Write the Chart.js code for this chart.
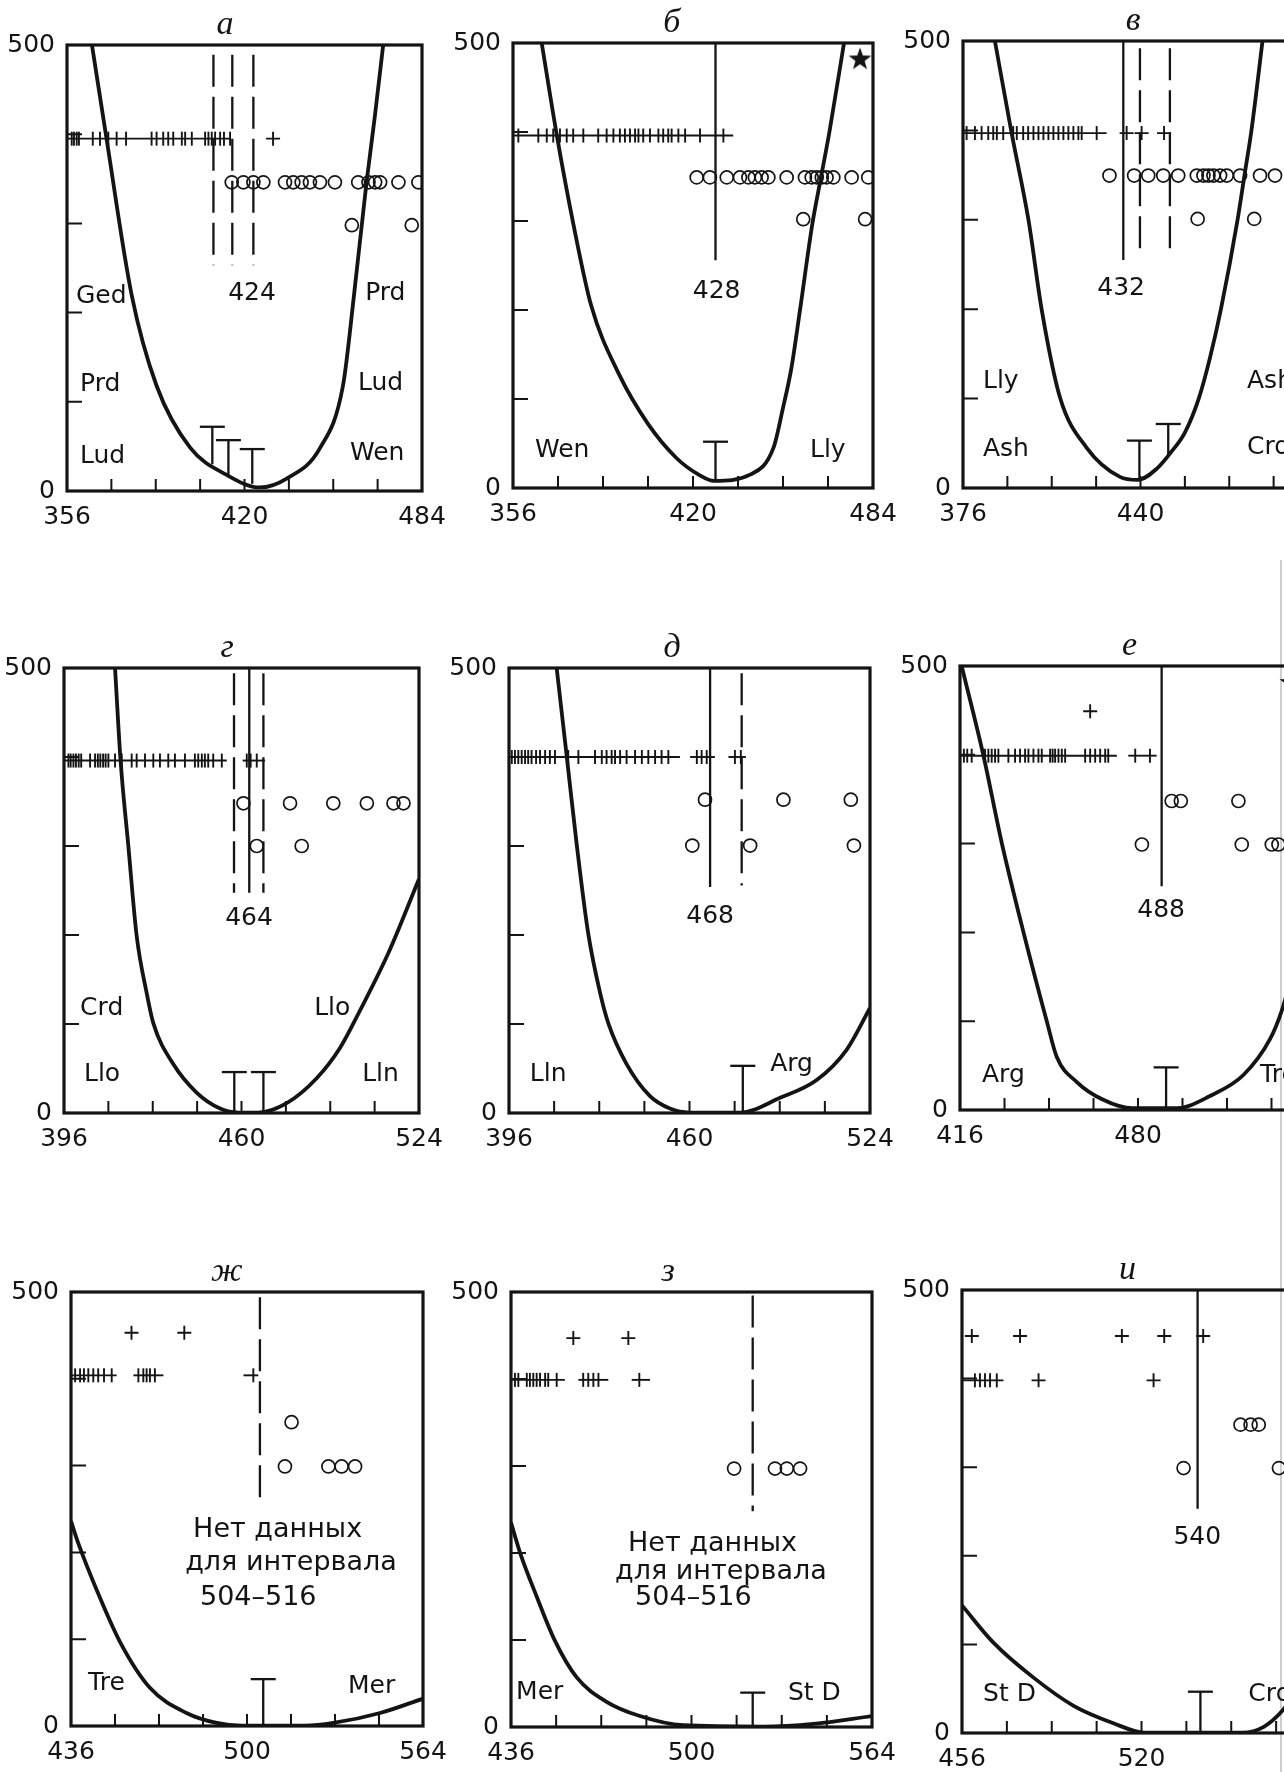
<!DOCTYPE html>
<html>
<head>
<meta charset="utf-8">
<script src="https://cdn.jsdelivr.net/npm/chart.js@4.4.1/dist/chart.umd.min.js"></script>
<style>
  html, body { margin: 0; padding: 0; background: #fff; overflow: hidden; width: 1284px; height: 1772px; }
  #edge { position: absolute; left: 1280px; top: 560px; width: 2px; height: 1212px; background: #cfcfcf; }
</style>
</head>
<body>
<div id="edge"></div>
<script>
// ---------- values (x: age, y: 0..500) ----------

// panel а
const curveA = [[365,500],[370.3,394],[379.3,220],[388.3,118],[400.4,48.6],[413.6,18],[425.5,4],[435.2,14],[447.2,48],[455.5,118],[459.5,220],[464,346],[467,420],[470,500]];
const ticksA = [357.7,358.5,359.5,360.3,365.3,367.9,370.9,373.9,377.3,386.5,388.3,390.7,392.5,394.3,397.4,398.6,401,405.8,407,408.2,409.4,411.2,412.6,414.8];
const tickLinesA = [[356,414.8]];
const plusA = [[430.3,395]];
const circlesA = [[415.4,346],[419.6,346],[423.2,346],[426.8,346],[434.6,346],[437.6,346],[440.6,346],[443.6,346],[447.2,346],[452.6,346],[461,346],[464.7,346],[467.1,346],[468.9,346],[475.5,346],[482.7,346],[458.7,298],[480.3,298]];
const refA = [[408.8,489,253,1],[415.6,489,253,1],[423.2,489,253,1]];
const tA = [[408.4,30,72],[414.2,18,57],[422.8,8,47]];
const labelsA = [['Ged',359.2,217.5],['Prd',360.7,119],['Lud',360.7,39],['Prd',463.5,221],['Lud',460.9,120],['Wen',458,42.6],['424',422.7,221,'center']];

// panel б
const curveB = [[366.2,500],[371.6,396],[377.5,296],[383.8,205],[393.5,129],[404,72],[414,34],[422,15],[427.5,8],[440.3,15],[448.6,45],[452,90],[455,135],[458,199],[462.5,298],[465.5,349],[468.5,400],[473.7,500]];
const ticksB = [357.9,365,368,370.3,372.7,375.1,377.4,381,386.3,389.3,391.7,394,395.8,397.6,399.4,400.6,402.3,404.7,407.7,409.4,411.2,412.4,414.8,417.2,422.5,430.8];
const tickLinesB = [[356,434.3]];
const plusB = [];
const circlesB = [[421.3,349],[426,349],[432,349],[436.7,349],[439.7,349],[442,349],[444.4,349],[446.8,349],[453.3,349],[459.8,349],[462.2,349],[464,349],[465.8,349],[467.5,349],[469.9,349],[476.4,349],[482.3,349],[459.2,302],[481.2,302]];
const refB = [[428,500,256,0]];
const tB = [[428,8,52]];
const starsB = [[479.4,482.6]];
const labelsB = [['Wen',363.8,41.6],['Lly',461.6,41.6],['428',428.4,221,'center']];

// panel в
const curveC = [[387.5,500],[393.5,397.5],[399.6,300],[404.4,199],[411,101],[420.6,45],[432.6,12.4],[439,9],[446,22],[451,40],[456,62],[461,100],[465,145],[469,200],[475,300],[477.5,350],[480,400],[484,500]];
const ticksC = [377.3,380.3,382.7,385.1,386.9,388.2,390.5,394.1,395.4,397.7,399.5,401.4,403.2,405,406.8,408.6,410.4,412.2,414,415.8,417.6,418.8,424.2];
const tickLinesC = [[376,427.8]];
const plusC = [[435,397],[440.4,397],[448.5,397]];
const circlesC = [[428.8,349.5],[437.7,349.5],[442.8,349.5],[448.2,349.5],[453.6,349.5],[460.3,349.5],[462.7,349.5],[464.5,349.5],[466.3,349.5],[468.7,349.5],[471.1,349.5],[475.9,349.5],[483.1,349.5],[488.5,349.5],[460.6,301],[481,301]];
const refC = [[433.8,500,255,0],[439.8,492,259,1],[450.6,492,259,1]];
const tC = [[439.6,9,53],[450,37,71.6]];
const labelsC = [['Lly',383.2,118.6],['Ash',383.2,43.6],['Ash',478.4,118.6],['Crd',478.4,45],['432',433,222.6,'center']];

// panel г
const curveD = [[414.4,500],[416.4,396],[419.2,300],[422.2,199],[425.8,135],[428.2,101],[435.4,55],[443.8,23],[452.3,5],[459,0.5],[466,0.5],[476.3,11],[487.1,39],[495.5,73],[502.7,115],[513,180],[524,263]];
const ticksD = [397.6,398.4,399.4,400.3,401.3,402.2,405.4,407.2,408.2,409.1,410.1,411,412,414.4,416.8,420.4,422.2,425.2,428.2,430.6,433.6,436,439.6,443.2,444.4,445.7,446.8,448,449.8,452.9,461.9,463.3,465.5];
const tickLinesD = [[396,454.7],[460.4,468.5]];
const plusD = [];
const circlesD = [[460.7,348],[477.5,348],[493.1,348],[505.2,348],[514.8,348],[518.4,348],[465.5,300],[481.7,300]];
const refD = [[457.3,494,247.5,1],[462.8,500,247.5,0],[467.9,494,247.5,1]];
const tD = [[457.4,0,46],[467.9,0,46]];
const labelsD = [['Crd',401.8,116.9],['Llo',403.2,42.7],['Llo',486.2,116.9],['Lln',503.5,42.7],['464',462.7,219,'center']];

// panel д
const curveE = [[412.9,500],[416.5,400],[420,302],[424.1,201.5],[428.3,135],[431.2,101],[437.7,55],[446,19],[453.1,5],[460,0.5],[478,0.5],[492.1,17],[505.1,37],[515.7,71],[524,118]];
const ticksE = [397,398.1,399.3,400.5,401.7,402.8,404,405.6,407,408.8,410.5,412.3,417,420.6,426.5,428.9,430.6,432.4,433.6,435.4,437.7,440.7,443.1,445.4,447.8,450.1,452.5,462.6,464.3,466.1,476.1,478.2];
const tickLinesE = [[396,456.6],[460.2,469],[473.8,480]];
const plusE = [];
const circlesE = [[465.5,352],[493.3,352],[517.2,352],[461,300.5],[481.5,300.5],[518.3,300.5]];
const refE = [[467.3,500,254,0],[478.5,494,255.5,1]];
const tE = [[478.9,0,53]];
const labelsE = [['Lln',403.4,42.7],['Arg',488.6,55],['468',467.3,221,'center']];

// panel е
const curveF = [[416.6,500],[424.4,399.5],[431,301],[438.8,200.5],[447.2,100],[450.8,59.7],[458,31.5],[467.5,11.5],[478,2],[494,2],[505.9,15.8],[517.9,39.4],[527.5,80],[531.7,112],[536,160]];
const ticksF = [417.4,418.6,420.2,425,426.2,427.4,428.6,429.8,433.4,435.8,437.6,439.4,440.6,442.4,444.2,445.4,448.4,449.3,450.2,451.4,452.6,453.8,461,462.8,464.6,466.4,468.2,469.3,479,484.3];
const tickLinesF = [[416,472.4],[476.5,486.7]];
const plusF = [[462.8,449]];
const circlesF = [[492.1,348],[495.4,348],[516.1,348],[481.4,299],[517.3,299],[528.1,299],[530.5,299]];
const refF = [[488.5,500,252,0]];
const tF = [[490.1,0,48]];
const starsF = [[535,482]];
const labelsF = [['Arg',423.9,39.4],['Tre',523.9,39.4],['488',488.3,224.5,'center']];

// panel ж
const curveG = [[436,236],[438.7,210],[445.3,157],[453.8,97],[464.7,44],[478,15],[489,3.5],[498,0.5],[521,0.5],[531.4,3.5],[548.4,15],[564,31.5]];
const ticksG = [437.5,439.3,440.7,442.3,444.1,445.9,448,450.8,460.5,462.3,463.5,464.7,466.5,502.3];
const tickLinesG = [[436,452.6],[458.7,469.6],[498.7,504.1]];
const plusG = [[458,453],[477.2,453]];
const circlesG = [[516.2,350],[513.8,299],[529.6,299],[534.4,299],[539.3,299]];
const refG = [[504.7,494,254,1]];
const tG = [[505.9,0,54]];
const labelsG = [['Tre',442.2,49.5],['Mer',536.7,46],['Нет данных',480.4,225.8,'left',27],['для интервала',477.5,187.8,'left',27],['504–516',482.9,147.5,'left',27]];

// panel з
const curveH = [[436,235],[439.2,200.5],[445.1,150],[451.6,99],[459.3,57],[469.9,29],[481.7,12.6],[497.1,2],[525.5,0.5],[543.2,3.5],[564,12.5]];
const ticksH = [437.4,438.6,441.6,442.7,443.9,445.1,446.3,448.1,449.2,452.2,461.6,463.4,465.2,467,481.5];
const tickLinesH = [[436,455.1],[459.9,470.5],[478.8,485.3]];
const plusH = [[458.1,447],[477.6,447]];
const circlesH = [[515.1,297],[529.6,297],[533.8,297],[538.5,297]];
const refH = [[521.7,496,248,1]];
const tH = [[521.7,0,39.5]];
const labelsH = [['Mer',437.8,40],['St D',534.2,39],['Нет данных',477.5,210,'left',27],['для интервала',472.9,178,'left',27],['504–516',480,148,'left',27]];

// panel и
const curveI = [[456,144],[467.2,102],[481.5,62.5],[495.8,30.7],[510,11],[521,0.5],[556,0.5],[563.6,7],[570.2,25],[578,60]];
const ticksI = [460.6,462.4,464.2,466,468.4];
const tickLinesI = [[456,470.8]];
const plusI = [[459.5,448],[476.7,448],[513,448],[528.1,448],[542,448],[483.3,398],[524.3,398]];
const circlesI = [[555.3,348],[558.9,348],[561.8,348],[535,299],[569,299]];
const refI = [[540,500,253,0]];
const tI = [[541,0,46.6]];
const labelsI = [['St D',463.5,42.9],['Crd',558.1,42.9],['540',539.9,221,'center']];

// y of the row of vertical marks, one per panel
const tickRowY = [395, 396, 397, 396, 400, 399, 404, 399, 398];
const titles = ['а', 'б', 'в', 'г', 'д', 'е', 'ж', 'з', 'и'];
const titleX = [413, 412.5, 437.3, 454.8, 453.8, 477, 492.7, 491.7, 515];
const xMins = [356, 356, 376, 396, 396, 416, 436, 436, 456];

// ---------- placement of the plot areas on the page ----------
const boxes = [
  [67, 45, 355, 446], [513, 43, 360, 445], [963, 41, 355, 447],
  [64, 668, 355, 445], [509, 668, 361, 445], [960, 666, 356, 444],
  [71, 1292, 352, 434], [511, 1292, 361, 435], [962, 1290, 359, 443]
];

const panels = [
  { curve: curveA, ticks: ticksA, lines: tickLinesA, plus: plusA, circles: circlesA, refs: refA, ts: tA, stars: [], labels: labelsA },
  { curve: curveB, ticks: ticksB, lines: tickLinesB, plus: plusB, circles: circlesB, refs: refB, ts: tB, stars: starsB, labels: labelsB },
  { curve: curveC, ticks: ticksC, lines: tickLinesC, plus: plusC, circles: circlesC, refs: refC, ts: tC, stars: [], labels: labelsC },
  { curve: curveD, ticks: ticksD, lines: tickLinesD, plus: plusD, circles: circlesD, refs: refD, ts: tD, stars: [], labels: labelsD },
  { curve: curveE, ticks: ticksE, lines: tickLinesE, plus: plusE, circles: circlesE, refs: refE, ts: tE, stars: [], labels: labelsE },
  { curve: curveF, ticks: ticksF, lines: tickLinesF, plus: plusF, circles: circlesF, refs: refF, ts: tF, stars: starsF, labels: labelsF },
  { curve: curveG, ticks: ticksG, lines: tickLinesG, plus: plusG, circles: circlesG, refs: refG, ts: tG, stars: [], labels: labelsG },
  { curve: curveH, ticks: ticksH, lines: tickLinesH, plus: plusH, circles: circlesH, refs: refH, ts: tH, stars: [], labels: labelsH },
  { curve: curveI, ticks: ticksI, lines: tickLinesI, plus: plusI, circles: circlesI, refs: refI, ts: tI, stars: [], labels: labelsI }
];

const INK = '#141414';
const pts = arr => arr.map(([x, y]) => ({ x, y }));

function starImage(size) {
  const c = document.createElement('canvas');
  c.width = c.height = size;
  const g = c.getContext('2d');
  g.beginPath();
  for (let i = 0; i < 10; i++) {
    const r = i % 2 ? size * 0.2 : size * 0.5;
    const a = -Math.PI / 2 + i * Math.PI / 5;
    g.lineTo(size / 2 + r * Math.cos(a), size / 2 + 1 + r * Math.sin(a));
  }
  g.closePath();
  g.fillStyle = INK;
  g.fill();
  return c;
}
const STAR = starImage(24);

function buildDatasets(p, rowY) {
  const ds = [];
  const seg = (data, w, dash) => ({
    data, showLine: true, borderColor: INK, borderWidth: w, borderDash: dash || [],
    pointRadius: 0, fill: false
  });

  // main curve
  const c = seg(pts(p.curve), 3.8);
  c.cubicInterpolationMode = 'monotone';
  ds.push(c);

  // vertical boundary lines (solid / dashed)
  p.refs.forEach(([x, top, bottom, dashed]) => {
    ds.push(seg([{ x, y: top }, { x, y: bottom }], 2.3, dashed ? [32, 10] : []));
  });

  // T markers: stem + cap
  p.ts.forEach(([x, bottom, top]) => {
    ds.push(seg([{ x, y: bottom }, { x, y: top }], 2.3));
    ds.push({ data: [{ x, y: top }], pointStyle: 'line', pointRadius: 12.5,
      pointBorderWidth: 2.3, pointBorderColor: INK, showLine: false });
  });

  // horizontal line under the row of marks
  p.lines.forEach(([a, b]) => ds.push(seg([{ x: a, y: rowY }, { x: b, y: rowY }], 1.9)));

  // vertical marks on the row
  ds.push({ data: p.ticks.map(x => ({ x, y: rowY })), showLine: false, pointStyle: 'line',
    pointRotation: 90, pointRadius: 7, pointBorderWidth: 1.9, pointBorderColor: INK });

  // isolated crosses
  ds.push({ data: pts(p.plus), showLine: false, pointStyle: 'cross', pointRadius: 7,
    pointBorderWidth: 1.9, pointBorderColor: INK });

  // open circles
  ds.push({ data: pts(p.circles), showLine: false, pointStyle: 'circle', pointRadius: 6.5,
    pointBorderWidth: 1.7, pointBorderColor: INK, pointBackgroundColor: 'rgba(0,0,0,0)' });

  // star
  if (p.stars.length) {
    ds.push({ data: pts(p.stars), showLine: false, pointStyle: STAR, pointRadius: 12 });
  }
  return ds;
}

// frame, inward ticks, text labels and panel letter
const decor = {
  id: 'decor',
  afterDatasetsDraw(chart, args, opts) {
    const { ctx, chartArea: a, scales: { x, y } } = chart;
    ctx.save();
    ctx.strokeStyle = INK;
    ctx.lineWidth = 3.2;
    ctx.strokeRect(a.left, a.top, a.right - a.left, a.bottom - a.top);

    ctx.lineWidth = 2;
    ctx.beginPath();
    y.ticks.forEach(t => {
      if (t.value > 0 && t.value < 500) {
        const py = y.getPixelForValue(t.value);
        ctx.moveTo(a.left, py); ctx.lineTo(a.left + 15, py);
      }
    });
    x.ticks.forEach(t => {
      if (t.value > x.min && t.value < x.max) {
        const px = x.getPixelForValue(t.value);
        ctx.moveTo(px, a.bottom); ctx.lineTo(px, a.bottom - 12);
      }
    });
    ctx.stroke();

    ctx.fillStyle = INK;
    ctx.textBaseline = 'middle';
    opts.labels.forEach(([txt, vx, vy, align, size]) => {
      ctx.font = (size || 25) + 'px "DejaVu Sans"';
      ctx.textAlign = align || 'left';
      ctx.fillText(txt, x.getPixelForValue(vx), y.getPixelForValue(vy));
    });

    ctx.font = 'italic 34px "Liberation Serif"';
    ctx.textAlign = 'center';
    ctx.textBaseline = 'alphabetic';
    ctx.fillText(opts.title, x.getPixelForValue(opts.titleX), a.top - 11);
    ctx.restore();
  }
};

const PAD_L = 70, PAD_T = 50, PAD_R = 40, PAD_B = 45;

panels.forEach((p, i) => {
  const [left, top, w, h] = boxes[i];
  const xMin = xMins[i], xMax = xMin + 128, xMid = xMin + 64;
  const canvas = document.createElement('canvas');
  canvas.width = w + PAD_L + PAD_R;
  canvas.height = h + PAD_T + PAD_B;
  canvas.style.position = 'absolute';
  canvas.style.left = (left - PAD_L) + 'px';
  canvas.style.top = (top - PAD_T) + 'px';
  document.body.appendChild(canvas);

  const tickFont = { family: 'DejaVu Sans', size: 25 };
  new Chart(canvas, {
    type: 'scatter',
    data: { datasets: buildDatasets(p, tickRowY[i]) },
    options: {
      responsive: false,
      animation: false,
      events: [],
      devicePixelRatio: 1,
      layout: { padding: { left: 0, top: PAD_T, right: PAD_R, bottom: 0 } },
      plugins: {
        legend: { display: false },
        tooltip: { enabled: false },
        decor: { labels: p.labels, title: titles[i], titleX: titleX[i] }
      },
      scales: {
        x: {
          type: 'linear', min: xMin, max: xMax,
          grid: { display: false, drawTicks: false },
          border: { display: false },
          ticks: {
            stepSize: 16, autoSkip: false, maxRotation: 0, padding: 11, color: INK, font: tickFont,
            callback: v => (v === xMin || v === xMid || v === xMax) ? String(v) : ''
          },
          afterFit: s => { s.height = PAD_B; s.paddingLeft = 0; s.paddingRight = 0; }
        },
        y: {
          type: 'linear', min: 0, max: 500,
          grid: { display: false, drawTicks: false },
          border: { display: false },
          ticks: {
            stepSize: 100, autoSkip: false, padding: 12, color: INK, font: tickFont,
            callback: v => (v === 0 || v === 500) ? String(v) : ''
          },
          afterFit: s => { s.width = PAD_L; s.paddingTop = 0; s.paddingBottom = 0; }
        }
      }
    },
    plugins: [decor]
  });
});
</script>
</body>
</html>
